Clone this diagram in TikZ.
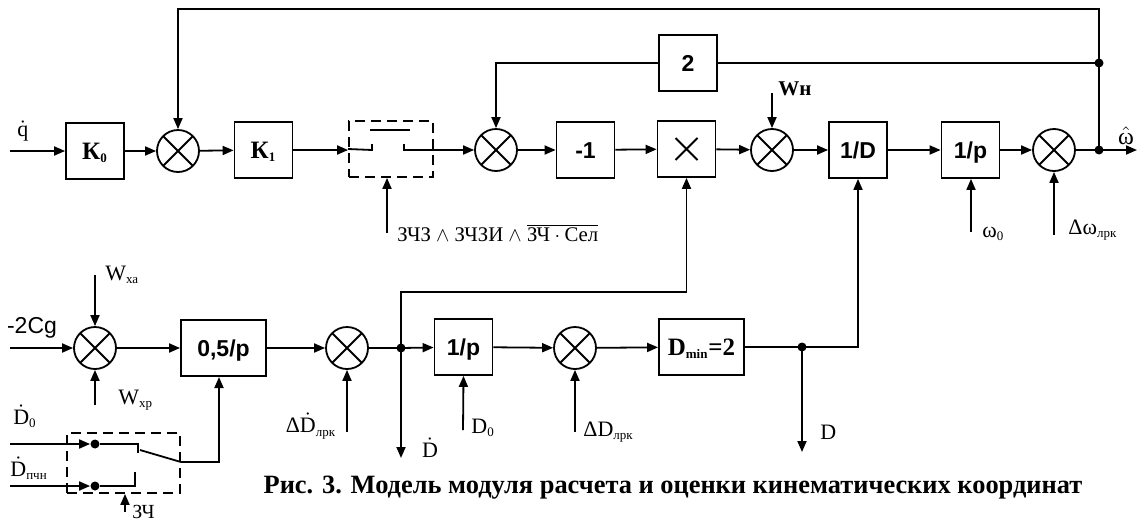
\documentclass[tikz,border=0pt]{standalone}
\usepackage{fontspec}
\setmainfont{Liberation Serif}
\setsansfont{Liberation Sans}
\usetikzlibrary{arrows.meta,calc}
\newcommand\lowidx[1]{\textsubscript{\fontsize{6.5}{7}\selectfont #1}}
\begin{document}
\begin{tikzpicture}[
   x=0.5pt,y=-0.5pt,
   line/.style={line width=0.9pt},
   arr/.style={line,-{Triangle[length=5.5pt,width=4.5pt]}},
   blk/.style={draw,line width=0.9pt,minimum width=29pt,minimum height=28pt,inner sep=0pt,
     text height=8.2pt,text depth=0pt,
     font=\sffamily\bfseries\fontsize{11.5}{13}\selectfont},
   wide/.style={blk,minimum width=42.5pt},
   serifbold/.style={font=\rmfamily\bfseries\fontsize{12.5}{14}\selectfont},
   sum/.style={circle,draw,line width=0.9pt,minimum size=21pt,inner sep=0pt,
     path picture={\draw[line] (path picture bounding box.north west) -- (path picture bounding box.south east)
       (path picture bounding box.north east) -- (path picture bounding box.south west);}},
   swbox/.style={draw,line width=0.9pt,dash pattern=on 5pt off 3pt,inner sep=0pt},
   dot/.style={circle,fill,inner sep=0pt,minimum size=4.5pt},
   lbl/.style={font=\fontsize{11}{13}\selectfont,inner sep=0pt}
 ]
  \useasboundingbox (0,0) rectangle (1139,520);

  % upper chain
  \node[blk,serifbold] (k0) at (95,151) {К\lowidx{0}};
  \node[sum] (s1) at (178,151) {};
  \node[blk,serifbold] (k1) at (263.5,150) {К\lowidx{1}};
  \node[swbox,minimum width=42pt,minimum height=28pt] (sw1) at (391,149) {};
  \node[sum] (s2) at (496,150) {};
  \node[blk] (neg) at (585.5,150) {-1};
  \node[blk] (mul) at (686.5,149) {};
  \draw[line] ($(mul)+(-11,-11)$) -- ($(mul)+(11,11)$) ($(mul)+(11,-11)$) -- ($(mul)+(-11,11)$);
  \node[sum] (s3) at (772,150) {};
  \node[blk] (invd) at (858,150) {1/D};
  \node[blk] (int1) at (970.5,150) {1/p};
  \node[sum] (s4) at (1054,150) {};
  \node[blk] (g2) at (688,63) {2};
  \coordinate (qin) at (10,151);
  \coordinate (jw) at (1099,150);
  \coordinate (jt) at (1099,63);
  \coordinate (tr) at (1099,9);
  \coordinate (out) at (1137,150);

  \draw[arr] (qin) -- (k0);
  \draw[arr] (k0) -- (s1);
  \draw[arr] (s1) -- (k1);
  \draw[arr] (k1) -- (k1 -| sw1.west);
  \draw[line] (sw1.west) -- (372,150) -- (372,144);
  \draw[line] (370,130) -- (410,130);
  \draw[arr] (404,144) |- (s2.west);
  \draw[arr] (s2) -- (neg);
  \draw[arr] (neg) -- (mul);
  \draw[arr] (mul) -- (s3);
  \draw[arr] (s3) -- (invd);
  \draw[arr] (invd) -- (int1);
  \draw[arr] (int1) -- (s4);
  \draw[line] (s4) -- (jw);
  \draw[arr] (jw) -- (out);
  \draw[arr] (jw) -- (tr) -| (s1.north);
  \draw[line] (jt) -- (g2);
  \draw[arr] (g2) -| (s2.north);
  \node[dot] at (jw) {};
  \node[dot] at (jt) {};

  \node[lbl] (lq) at (23,131) {$\dot{\mathrm{q}}$};
  \node[lbl,font=\fontsize{12}{14}\selectfont] (lw) at (1126,136) {$\hat{\mbox{ω}}$};
  \coordinate (wh) at (772,93);
  \draw[arr] (wh) -- (s3.north);
  \node[lbl,anchor=west,font=\bfseries\fontsize{10.5}{13}\selectfont] (lwh) at (778,89) {Wн};
  \coordinate (c1) at (387,233);
  \draw[arr] (c1) -- (c1 |- sw1.south);
  \node[lbl,anchor=west,font=\fontsize{10.4}{13}\selectfont] (lc1) at (397,233)
    {ЗЧЗ $\wedge$ ЗЧЗИ $\wedge$ $\overline{\mbox{ЗЧ}\cdot\mbox{Сел}}$};
  \coordinate (w0) at (971,232);
  \draw[arr] (w0) -- (w0 |- int1.south);
  \node[lbl,anchor=west] (lw0) at (982,234) {ω\lowidx{0}};
  \coordinate (dw) at (1054,235);
  \draw[arr] (dw) -- (s4.south);
  \node[lbl,anchor=west] (ldw) at (1068,230) {Δω\lowidx{лрк}};

  % lower chain
  \node[sum] (s7) at (95,348) {};
  \node[wide] (half) at (223.5,348) {0,5/p};
  \node[sum] (s5) at (347,348) {};
  \node[blk] (int2) at (463.5,347) {1/p};
  \node[sum] (s6) at (575,348) {};
  \node[wide,serifbold] (dmin) at (701.5,347) {D\lowidx{min}=2};
  \coordinate (cgin) at (10,348);
  \coordinate (jd) at (401,348);
  \coordinate (jdd) at (802,347);

  \draw[arr] (cgin) -- (s7);
  \draw[arr] (s7) -- (half);
  \draw[arr] (half) -- (s5);
  \draw[line] (s5) -- (jd);
  \draw[arr] (jd) -- (int2);
  \draw[arr] (int2) -- (s6);
  \draw[arr] (s6) -- (dmin);
  \draw[arr] (dmin) -| (invd.south);
  \draw[arr] (jd) -- (401,292) -| (mul.south);
  \draw[arr] (jd) -- (401,458);
  \draw[arr] (jdd) -- (802,452);
  \node[dot] at (jd) {};
  \node[dot] at (jdd) {};

  \coordinate (wxa) at (95,275);
  \coordinate (wxp) at (95,405);
  \coordinate (dd) at (347,432);
  \coordinate (d0) at (463,430);
  \coordinate (dl) at (575,432);
  \draw[arr] (wxa) -- (s7.north);
  \draw[arr] (wxp) -- (s7.south);
  \draw[arr] (dd) -- (s5.south);
  \draw[arr] (d0) -- (int2.south);
  \draw[arr] (dl) -- (s6.south);

  \node[lbl,font=\sffamily\fontsize{11.5}{13}\selectfont] (lcg) at (32,328) {-2Cg};
  \node[lbl,anchor=west] (lwxa) at (105,275) {W\lowidx{ха}};
  \node[lbl,anchor=west] (lwxp) at (118,400) {W\lowidx{хр}};
  \node[lbl] (ldd) at (311,426) {Δ$\dot{\mathrm{D}}$\lowidx{лрк}};
  \node[lbl,anchor=west] (ld0) at (471,428) {D\lowidx{0}};
  \node[lbl,anchor=west] (ldl) at (583,432) {ΔD\lowidx{лрк}};
  \node[lbl] (ldot) at (430,448) {$\dot{\mathrm{D}}$};
  \node[lbl,anchor=west] (ld) at (820,432) {D};

  % switch of the rate source
  \node[swbox,minimum width=56.5pt,minimum height=30pt] (sw2) at (123.5,463) {};
  \node[dot] (c0) at (95,444) {};
  \node[dot] (cp) at (95,486) {};
  \coordinate (d0in) at (10,444);
  \coordinate (dpin) at (10,486);
  \coordinate (piv) at (sw2.east |- 0,462);
  \draw[arr] (d0in) -- (c0);
  \draw[arr] (dpin) -- (cp);
  \draw[line] (c0) -- (138,444) -- (138,453);
  \draw[line] (cp) -- (135,486) -- (135,472);
  \draw[line] (140,450) -- (piv);
  \draw[arr] (piv) -| (219,377);
  \coordinate (zc) at (125,512);
  \draw[arr] (zc) -- (zc |- sw2.south);
  \node[lbl,anchor=base west,font=\fontsize{10}{12}\selectfont] (lz) at (132,518) {ЗЧ};
  \node[lbl] (ld0in) at (25,416) {$\dot{\mathrm{D}}$\lowidx{0}};
  \node[lbl,anchor=west] (ldp) at (10,468) {$\dot{\mathrm{D}}$\lowidx{пчн}};

  \node[lbl,font=\bfseries\fontsize{13.2}{15}\selectfont] (cap) at (673,488)
    {Рис. 3. Модель модуля расчета и оценки кинематических координат};
 \end{tikzpicture}
\end{document}
